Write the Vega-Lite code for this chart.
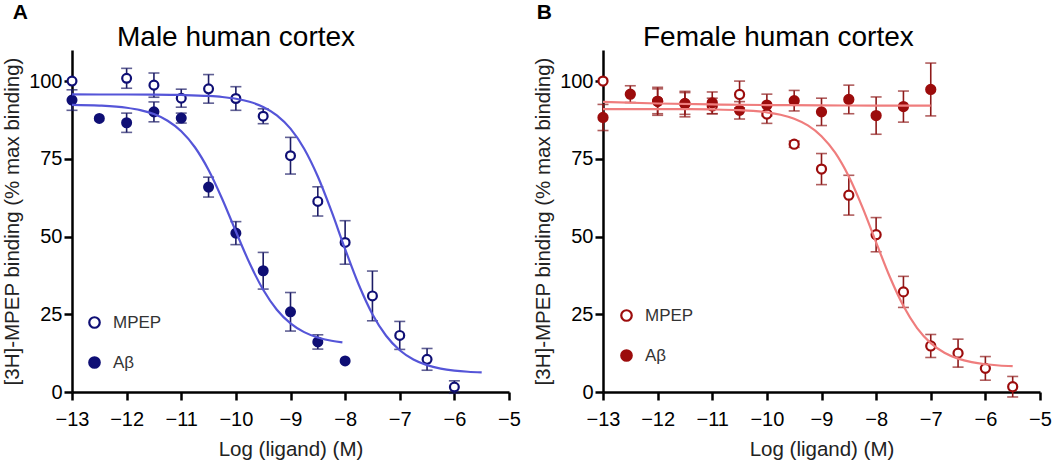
{
  "$schema": "https://vega.github.io/schema/vega-lite/v6.json",
  "padding": {"left": 2, "top": 2, "right": 5, "bottom": 0},
  "spacing": 12,
  "datasets": {
    "A_pts": [
      {"series": "MPEP", "x": -13, "y": 100, "sem": null},
      {"series": "MPEP", "x": -12, "y": 100.9, "sem": 3.2},
      {"series": "MPEP", "x": -11.5, "y": 98.7, "sem": 3.9},
      {"series": "MPEP", "x": -11, "y": 94.5, "sem": 2.9},
      {"series": "MPEP", "x": -10.5, "y": 97.5, "sem": 4.6},
      {"series": "MPEP", "x": -10, "y": 94.4, "sem": 3.8},
      {"series": "MPEP", "x": -9.5, "y": 88.7, "sem": 2.4},
      {"series": "MPEP", "x": -9, "y": 76.0, "sem": 5.9},
      {"series": "MPEP", "x": -8.5, "y": 61.3, "sem": 4.7},
      {"series": "MPEP", "x": -8, "y": 48.1, "sem": 7.0},
      {"series": "MPEP", "x": -7.5, "y": 30.9, "sem": 8.0},
      {"series": "MPEP", "x": -7, "y": 18.2, "sem": 4.5},
      {"series": "MPEP", "x": -6.5, "y": 10.5, "sem": 3.5},
      {"series": "MPEP", "x": -6, "y": 1.6, "sem": 2.0},
      {"series": "Aβ", "x": -13, "y": 93.9, "sem": 3.3},
      {"series": "Aβ", "x": -12.5, "y": 88.0, "sem": null},
      {"series": "Aβ", "x": -12, "y": 86.6, "sem": 3.1},
      {"series": "Aβ", "x": -11.5, "y": 90.1, "sem": 3.2},
      {"series": "Aβ", "x": -11, "y": 88.1, "sem": 1.6},
      {"series": "Aβ", "x": -10.5, "y": 65.9, "sem": 3.2},
      {"series": "Aβ", "x": -10, "y": 51.1, "sem": 3.7},
      {"series": "Aβ", "x": -9.5, "y": 39.0, "sem": 5.9},
      {"series": "Aβ", "x": -9, "y": 25.8, "sem": 6.2},
      {"series": "Aβ", "x": -8.5, "y": 16.1, "sem": 2.3},
      {"series": "Aβ", "x": -8, "y": 10.0, "sem": null}
    ],
    "A_curve": [
      {"series": "MPEP", "x": -13, "y": 95.7},
      {"series": "MPEP", "x": -12.5, "y": 95.69},
      {"series": "MPEP", "x": -12, "y": 95.68},
      {"series": "MPEP", "x": -11.5, "y": 95.65},
      {"series": "MPEP", "x": -11, "y": 95.54},
      {"series": "MPEP", "x": -10.5, "y": 95.23},
      {"series": "MPEP", "x": -10.25, "y": 94.89},
      {"series": "MPEP", "x": -10, "y": 94.32},
      {"series": "MPEP", "x": -9.75, "y": 93.34},
      {"series": "MPEP", "x": -9.5, "y": 91.69},
      {"series": "MPEP", "x": -9.25, "y": 88.99},
      {"series": "MPEP", "x": -9, "y": 84.71},
      {"series": "MPEP", "x": -8.75, "y": 78.26},
      {"series": "MPEP", "x": -8.5, "y": 69.31},
      {"series": "MPEP", "x": -8.25, "y": 58.14},
      {"series": "MPEP", "x": -8, "y": 45.96},
      {"series": "MPEP", "x": -7.75, "y": 34.48},
      {"series": "MPEP", "x": -7.5, "y": 25.02},
      {"series": "MPEP", "x": -7.25, "y": 18.09},
      {"series": "MPEP", "x": -7, "y": 13.42},
      {"series": "MPEP", "x": -6.75, "y": 10.45},
      {"series": "MPEP", "x": -6.5, "y": 8.63},
      {"series": "MPEP", "x": -6.25, "y": 7.54},
      {"series": "MPEP", "x": -6, "y": 6.9},
      {"series": "MPEP", "x": -5.75, "y": 6.52},
      {"series": "MPEP", "x": -5.5, "y": 6.3},
      {"series": "Aβ", "x": -13, "y": 92.38},
      {"series": "Aβ", "x": -12.5, "y": 92.14},
      {"series": "Aβ", "x": -12, "y": 91.43},
      {"series": "Aβ", "x": -11.75, "y": 90.66},
      {"series": "Aβ", "x": -11.5, "y": 89.39},
      {"series": "Aβ", "x": -11.25, "y": 87.26},
      {"series": "Aβ", "x": -11, "y": 83.88},
      {"series": "Aβ", "x": -10.75, "y": 78.72},
      {"series": "Aβ", "x": -10.5, "y": 71.42},
      {"series": "Aβ", "x": -10.25, "y": 62.09},
      {"series": "Aβ", "x": -10, "y": 51.63},
      {"series": "Aβ", "x": -9.75, "y": 41.47},
      {"series": "Aβ", "x": -9.5, "y": 32.89},
      {"series": "Aβ", "x": -9.25, "y": 26.47},
      {"series": "Aβ", "x": -9, "y": 22.08},
      {"series": "Aβ", "x": -8.75, "y": 19.26},
      {"series": "Aβ", "x": -8.5, "y": 17.53},
      {"series": "Aβ", "x": -8.25, "y": 16.48},
      {"series": "Aβ", "x": -8.05, "y": 15.96}
    ],
    "B_pts": [
      {"series": "MPEP", "x": -13, "y": 100, "sem": null},
      {"series": "MPEP", "x": -12, "y": 93.5, "sem": 4.0},
      {"series": "MPEP", "x": -11.5, "y": 92.8, "sem": 3.5},
      {"series": "MPEP", "x": -11, "y": 92.0, "sem": 2.5},
      {"series": "MPEP", "x": -10.5, "y": 95.7, "sem": 4.3},
      {"series": "MPEP", "x": -10, "y": 89.4, "sem": 3.0},
      {"series": "MPEP", "x": -9.5, "y": 79.7, "sem": 1.0},
      {"series": "MPEP", "x": -9, "y": 71.7, "sem": 5.0},
      {"series": "MPEP", "x": -8.5, "y": 63.3, "sem": 6.4},
      {"series": "MPEP", "x": -8, "y": 50.6, "sem": 5.5},
      {"series": "MPEP", "x": -7.5, "y": 32.2, "sem": 5.0},
      {"series": "MPEP", "x": -7, "y": 14.8, "sem": 3.7},
      {"series": "MPEP", "x": -6.5, "y": 12.5, "sem": 4.5},
      {"series": "MPEP", "x": -6, "y": 7.6, "sem": 3.8},
      {"series": "MPEP", "x": -5.5, "y": 1.7, "sem": 3.3},
      {"series": "Aβ", "x": -13, "y": 88.3, "sem": 4.2},
      {"series": "Aβ", "x": -12.5, "y": 95.8, "sem": 2.7},
      {"series": "Aβ", "x": -12, "y": 93.5, "sem": 4.5},
      {"series": "Aβ", "x": -11.5, "y": 92.6, "sem": 4.1},
      {"series": "Aβ", "x": -11, "y": 93.0, "sem": 3.5},
      {"series": "Aβ", "x": -10.5, "y": 90.6, "sem": 2.8},
      {"series": "Aβ", "x": -10, "y": 92.3, "sem": 3.5},
      {"series": "Aβ", "x": -9.5, "y": 93.7, "sem": 3.3},
      {"series": "Aβ", "x": -9, "y": 90.1, "sem": 4.4},
      {"series": "Aβ", "x": -8.5, "y": 94.1, "sem": 4.6},
      {"series": "Aβ", "x": -8, "y": 88.9, "sem": 6.0},
      {"series": "Aβ", "x": -7.5, "y": 91.8, "sem": 5.0},
      {"series": "Aβ", "x": -7, "y": 97.3, "sem": 8.5}
    ],
    "B_curve": [
      {"series": "MPEP", "x": -13, "y": 91.0},
      {"series": "MPEP", "x": -12, "y": 90.99},
      {"series": "MPEP", "x": -11.5, "y": 90.96},
      {"series": "MPEP", "x": -11, "y": 90.88},
      {"series": "MPEP", "x": -10.5, "y": 90.65},
      {"series": "MPEP", "x": -10.25, "y": 90.39},
      {"series": "MPEP", "x": -10, "y": 89.95},
      {"series": "MPEP", "x": -9.75, "y": 89.19},
      {"series": "MPEP", "x": -9.5, "y": 87.9},
      {"series": "MPEP", "x": -9.25, "y": 85.75},
      {"series": "MPEP", "x": -9, "y": 82.29},
      {"series": "MPEP", "x": -8.75, "y": 76.96},
      {"series": "MPEP", "x": -8.5, "y": 69.3},
      {"series": "MPEP", "x": -8.25, "y": 59.38},
      {"series": "MPEP", "x": -8, "y": 48.12},
      {"series": "MPEP", "x": -7.75, "y": 37.05},
      {"series": "MPEP", "x": -7.5, "y": 27.63},
      {"series": "MPEP", "x": -7.25, "y": 20.56},
      {"series": "MPEP", "x": -7, "y": 15.72},
      {"series": "MPEP", "x": -6.75, "y": 12.63},
      {"series": "MPEP", "x": -6.5, "y": 10.73},
      {"series": "MPEP", "x": -6.25, "y": 9.59},
      {"series": "MPEP", "x": -6, "y": 8.92},
      {"series": "MPEP", "x": -5.75, "y": 8.53},
      {"series": "MPEP", "x": -5.5, "y": 8.31},
      {"series": "Aβ", "x": -13, "y": 93.3},
      {"series": "Aβ", "x": -12, "y": 92.8},
      {"series": "Aβ", "x": -11, "y": 92.5},
      {"series": "Aβ", "x": -10, "y": 92.3},
      {"series": "Aβ", "x": -9, "y": 92.2},
      {"series": "Aβ", "x": -8, "y": 92.1},
      {"series": "Aβ", "x": -7, "y": 92.1}
    ]
  },
  "hconcat": [
    {
      "title": {"text": "A", "anchor": "start", "fontSize": 21, "fontWeight": "bold", "color": "black", "dx": 10, "offset": 1},
      "hconcat": [
        {
          "width": 437,
          "height": 342,
          "title": {"text": "Male human cortex", "anchor": "start", "frame": "group", "dx": 45, "fontSize": 28, "fontWeight": "normal", "color": "black", "offset": -2},
          "encoding": {
            "x": {"field": "x", "type": "quantitative", "scale": {"domain": [-13, -5], "nice": false, "zero": false},
              "axis": {"values": [-13, -12, -11, -10, -9, -8, -7, -6, -5], "title": "Log (ligand) (M)"}},
            "y": {"field": "y", "type": "quantitative", "scale": {"domain": [0, 110], "nice": false},
              "axis": {"values": [0, 25, 50, 75, 100], "title": "[3H]-MPEP binding (% max binding)"}}
          },
          "layer": [
            {
              "data": {"name": "A_pts"},
              "transform": [{"filter": "isValid(datum.sem)"}],
              "mark": {"type": "errorbar", "ticks": {"size": 11, "thickness": 1.6}, "thickness": 1.6, "color": "#1c1c66"},
              "encoding": {"yError": {"field": "sem"}}
            },
            {
              "data": {"name": "A_pts"},
              "mark": {"type": "point", "shape": "circle", "filled": true, "size": 78, "strokeWidth": 2.2, "stroke": "#0f0f75", "opacity": 1},
              "encoding": {
                "fill": {"field": "series", "type": "nominal", "scale": {"domain": ["MPEP", "Aβ"], "range": ["white", "#0f0f75"]},
                  "legend": {"title": null, "orient": "none", "legendX": 14, "legendY": 264, "labelFontSize": 17, "labelColor": "#333333", "symbolType": "circle", "symbolSize": 110, "symbolStrokeWidth": 2.2, "symbolStrokeColor": "#0f0f75", "rowPadding": 19, "labelOffset": 10}}
              }
            },
            {
              "data": {"name": "A_curve"},
              "mark": {"type": "line", "interpolate": "monotone", "strokeWidth": 2.2, "color": "#5555d8"},
              "encoding": {"detail": {"field": "series"}}
            }
          ]
        }
      ]
    },
    {
      "title": {"text": "B", "anchor": "start", "fontSize": 21, "fontWeight": "bold", "color": "black", "dx": 3, "offset": 1},
      "hconcat": [
        {
          "width": 437,
          "height": 342,
          "title": {"text": "Female human cortex", "anchor": "start", "frame": "group", "dx": 40, "fontSize": 28, "fontWeight": "normal", "color": "black", "offset": -2},
          "encoding": {
            "x": {"field": "x", "type": "quantitative", "scale": {"domain": [-13, -5], "nice": false, "zero": false},
              "axis": {"values": [-13, -12, -11, -10, -9, -8, -7, -6, -5], "title": "Log (ligand) (M)"}},
            "y": {"field": "y", "type": "quantitative", "scale": {"domain": [0, 110], "nice": false},
              "axis": {"values": [0, 25, 50, 75, 100], "title": "[3H]-MPEP binding (% max binding)"}}
          },
          "layer": [
            {
              "data": {"name": "B_pts"},
              "transform": [{"filter": "isValid(datum.sem)"}],
              "mark": {"type": "errorbar", "ticks": {"size": 11, "thickness": 1.6}, "thickness": 1.6, "color": "#8e1a1a"},
              "encoding": {"yError": {"field": "sem"}}
            },
            {
              "data": {"name": "B_pts"},
              "mark": {"type": "point", "shape": "circle", "filled": true, "size": 82, "strokeWidth": 2.2, "stroke": "#9c0c0c", "opacity": 1},
              "encoding": {
                "fill": {"field": "series", "type": "nominal", "scale": {"domain": ["MPEP", "Aβ"], "range": ["white", "#9c0c0c"]},
                  "legend": {"title": null, "orient": "none", "legendX": 15, "legendY": 257, "labelFontSize": 17, "labelColor": "#333333", "symbolType": "circle", "symbolSize": 110, "symbolStrokeWidth": 2.2, "symbolStrokeColor": "#9c0c0c", "rowPadding": 19, "labelOffset": 10}}
              }
            },
            {
              "data": {"name": "B_curve"},
              "mark": {"type": "line", "interpolate": "monotone", "strokeWidth": 2.2, "color": "#ef7d7d"},
              "encoding": {"detail": {"field": "series"}}
            }
          ]
        }
      ]
    }
  ],
  "resolve": {"scale": {"fill": "independent"}, "legend": {"fill": "independent"}},
  "config": {
    "font": "Liberation Sans",
    "view": {"stroke": null},
    "axis": {
      "grid": false,
      "domainColor": "black",
      "domainWidth": 2.5,
      "tickColor": "black",
      "tickWidth": 2.5,
      "tickSize": 8,
      "labelFontSize": 20,
      "labelColor": "black",
      "labelFlush": false,
      "labelOverlap": false,
      "titleFontSize": 20.5,
      "titleFontWeight": "normal",
      "titleColor": "#222222"
    },
    "axisX": {"labelPadding": 9, "titlePadding": 10},
    "axisY": {"labelPadding": 2, "titlePadding": 6}
  }
}
